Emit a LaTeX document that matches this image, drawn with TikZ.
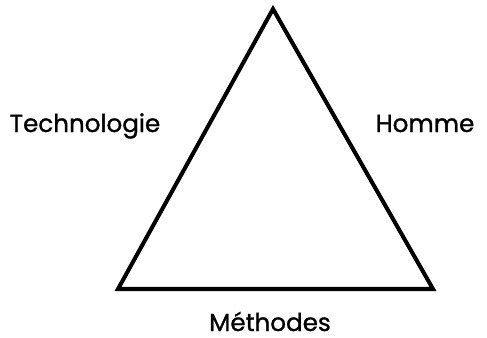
\documentclass[tikz,border=0pt]{standalone}
\usepackage{fontspec}
\setmainfont{Poppins}
\newfontfamily\polefont[FakeBold=1.2]{Poppins}
\usetikzlibrary{positioning}

\begin{document}
\begin{tikzpicture}[x=0.02cm, y=-0.02cm,
        every node/.style={align=center},
        pole/.style={font=\polefont\fontsize{14}{16}\selectfont, inner sep=0pt},
        edge/.style={line width=2.3pt, line join=miter}]

        \useasboundingbox (0,0) rectangle (487,338);

        % sommets du triangle
        \coordinate (top)   at (273, 9);
        \coordinate (left)  at (118, 289);
        \coordinate (right) at (433, 289);

        \draw[edge] (top) -- (left) -- (right) -- cycle;

        % les trois pôles
        \node[pole, anchor=base] (techno)  at (85, 132)  {Technologie};
        \node[pole, anchor=base] (homme)   at (425, 132) {Homme};
        \node[pole, anchor=base] (methode) at (270, 331) {Méthodes};
    \end{tikzpicture}
\end{document}
